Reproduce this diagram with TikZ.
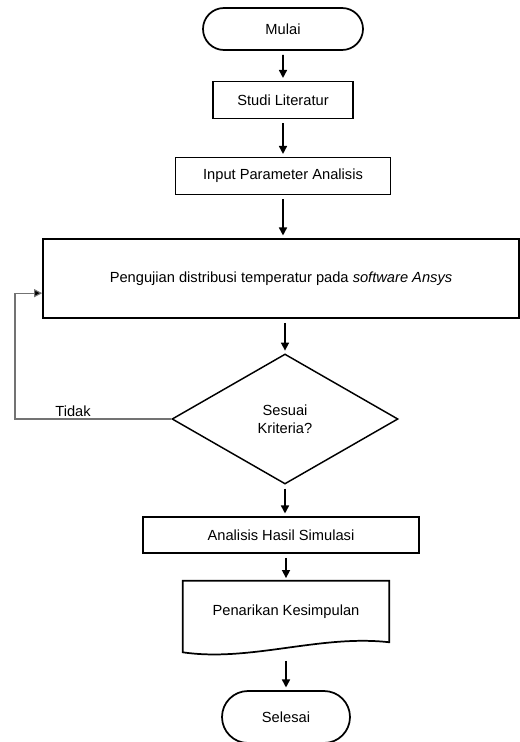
\documentclass[tikz,border=0pt]{standalone}
\usepackage{fontspec}
\setmainfont{Liberation Sans}
\usetikzlibrary{shapes.geometric,shapes.misc,arrows.meta,positioning,calc}

\tikzset{
    terminal/.style = {draw, rounded rectangle, line width=1.3pt, inner sep=0pt},
    process/.style  = {draw, rectangle, line width=1.3pt, inner sep=0pt},
    decision/.style = {draw, diamond, line width=1.1pt, inner sep=0pt, align=center},
    arrow/.style    = {line width=1.2pt, -{Triangle[length=6pt,width=6pt]}, shorten <=3pt, shorten >=2pt},
    fbline/.style   = {line width=0.8pt, draw=black!55, -{Triangle[length=6pt,width=6pt,fill=black]}},
}

\begin{document}
\begin{tikzpicture}[x=0.75pt, y=-0.75pt, font=\fontsize{11}{13.5}\selectfont]
        \useasboundingbox (0,0) rectangle (520,742);

        \node[terminal, minimum width=120pt, minimum height=31.5pt]  (mulai)    at (283,29)    {Mulai};
        \node[process,  minimum width=105pt, minimum height=27.75pt] (studi)    at (283,100)   {Studi Literatur};
        \node[process,  minimum width=161.25pt, minimum height=27.75pt] (input) at (283,176)   {Input Parameter Analisis};
        \node[process,  minimum width=357pt, minimum height=59.25pt] (uji)      at (281,278.5) {Pengujian distribusi temperatur pada \textit{software Ansys}};
        \node[decision, minimum width=169.5pt, minimum height=97.5pt] (cek)     at (285,419)   {Sesuai\\Kriteria?};
        \node[process,  minimum width=207pt, minimum height=27pt]    (analisis) at (281,535)   {Analisis Hasil Simulasi};
        \node[minimum width=154.5pt, minimum height=45.75pt, inner sep=0pt] (simpulan) at (286,611.5) {Penarikan Kesimpulan};
        \node[terminal, minimum width=96pt, minimum height=39pt]     (selesai)  at (286,717)   {Selesai};

        \node (tidak) at (73,411) {Tidak};
        \coordinate (balik) at (15,419);

        % dokumen dengan tepi bawah bergelombang
        \draw[line width=1.3pt] (simpulan.north west) -- (simpulan.north east) -- (simpulan.south east)
            .. controls ($(simpulan.south east)+(-69,-8)$) and ($(simpulan.south west)+(67,20)$) .. ($(simpulan.south west)+(0,10)$) -- cycle;

        \draw[arrow] (mulai)    -- (studi);
        \draw[arrow] (studi)    -- (input);
        \draw[arrow] (input)    -- (input |- uji.north);
        \draw[arrow] (cek |- uji.south) -- (cek.north);
        \draw[arrow] (cek)      -- (cek |- analisis.north);
        \draw[arrow] (simpulan |- analisis.south) -- (simpulan.north);
        \draw[arrow] ([yshift=-11pt]simpulan.south) -- (selesai.north);

        \draw[fbline] (cek.west) -- (cek.west -| balik) |- ([yshift=-11pt]uji.west);
    \end{tikzpicture}
\end{document}
